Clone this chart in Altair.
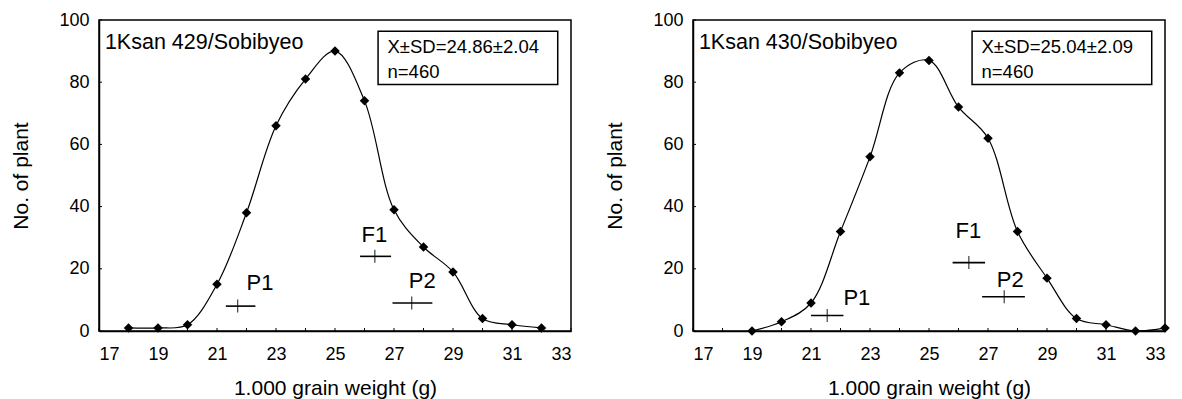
import altair as alt
import pandas as pd

# ---- data ----
weights_a = [18, 19, 20, 21, 22, 23, 24, 25, 26, 27, 28, 29, 30, 31, 32]
counts_a = [1, 1, 2, 15, 38, 66, 81, 90, 74, 39, 27, 19, 4, 2, 1]
weights_b = [19, 20, 21, 22, 23, 24, 25, 26, 27, 28, 29, 30, 31, 32, 33]
counts_b = [0, 3, 9, 32, 56, 83, 87, 72, 62, 32, 17, 4, 2, 0, 1]

cross_labels = ["P1", "F1", "P2"]
mean_a = [21.7, 26.35, 27.6]
low_a = [21.3, 25.85, 26.95]
high_a = [22.3, 26.9, 28.3]
level_a = [8, 24, 9]
mean_b = [21.55, 26.35, 27.55]
low_b = [21.0, 25.8, 26.8]
high_b = [22.1, 26.9, 28.25]
level_b = [5, 22, 11]

title_a = "1Ksan 429/Sobibyeo"
title_b = "1Ksan 430/Sobibyeo"
stats_a = ["X\u00b1SD=24.86\u00b12.04", "n=460"]
stats_b = ["X\u00b1SD=25.04\u00b12.09", "n=460"]

x_ticks = [17, 19, 21, 23, 25, 27, 29, 31, 33]
minor_x = list(range(17, 34))
y_ticks = [0, 20, 40, 60, 80, 100]

# ---- annotation placement (data coordinates) ----
lab_x_a = [22.0, 25.9, 27.5]
lab_y_a = [15.5, 31, 16]
lab_x_b = [22.1, 25.9, 27.3]
lab_y_b = [10.5, 32, 16.5]

FONT = "Liberation Sans"
W, H = 472, 311

xs = alt.Scale(domain=[17, 33], nice=False, zero=False)
ys = alt.Scale(domain=[0, 100], nice=False)


def panel(weights, counts, mean, low, high, level, lab_x, lab_y, title, stats):
    df = pd.DataFrame({"w": weights, "n": counts})
    cross = pd.DataFrame({"lab": cross_labels, "m": mean, "lo": low, "hi": high,
                          "lv": level, "lx": lab_x, "ly": lab_y})
    xax = alt.Axis(values=x_ticks, title="1.000 grain weight (g)", grid=False,
                   ticks=False, labelPadding=14, titlePadding=14,
                   labelFontSize=18, titleFontSize=21, titleFontWeight="normal",
                   labelFont=FONT, titleFont=FONT, domainColor="black",
                   domainWidth=1.5, labelColor="black", titleColor="black")
    yax = alt.Axis(values=y_ticks, title="No. of plant", grid=False,
                   ticks=False, labelPadding=10, titlePadding=27,
                   labelFontSize=18, titleFontSize=21, titleFontWeight="normal",
                   labelFont=FONT, titleFont=FONT, domainColor="black",
                   domainWidth=1.5, labelColor="black", titleColor="black")

    base = alt.Chart(df)
    line = base.mark_line(color="black", strokeWidth=1.2,
                          interpolate="catmull-rom").encode(
        x=alt.X("w:Q", scale=xs, axis=xax),
        y=alt.Y("n:Q", scale=ys, axis=yax),
    )
    pts = base.mark_point(shape="diamond", filled=True, color="black",
                          size=90, opacity=1).encode(x="w:Q", y="n:Q")

    cb = alt.Chart(cross)
    hbar = cb.mark_rule(color="black", strokeWidth=1.6).encode(
        x="lo:Q", x2="hi:Q", y="lv:Q")
    vbar = cb.mark_tick(color="black", orient="vertical", size=13,
                        thickness=1.3).encode(x="m:Q", y="lv:Q")
    labs = cb.mark_text(align="left", baseline="middle", font=FONT,
                        fontSize=22, color="black").encode(
        x="lx:Q", y="ly:Q", text="lab:N")

    tx = pd.DataFrame({"t": minor_x})
    ticks_x = alt.Chart(tx).mark_rule(color="black", strokeWidth=1).encode(
        x="t:Q", y=alt.value(H), y2=alt.value(H - 3))
    ty = pd.DataFrame({"t": y_ticks})
    ticks_y = alt.Chart(ty).mark_rule(color="black", strokeWidth=1).encode(
        y="t:Q", x=alt.value(0), x2=alt.value(3))

    ttl = alt.Chart(pd.DataFrame({"s": [title]})).mark_text(
        align="left", baseline="middle", font=FONT, fontSize=21.5,
        color="black").encode(x=alt.datum(17.2), y=alt.datum(92.5), text="s:N")

    box = alt.Chart(pd.DataFrame({"k": [0]})).mark_rect(
        fill="white", stroke="black", strokeWidth=1.5).encode(
        x=alt.datum(26.46), x2=alt.datum(32.55),
        y=alt.datum(79.3), y2=alt.datum(96.4))
    st = alt.Chart(pd.DataFrame({"s": stats, "yy": [91.3, 83.3]})).mark_text(
        align="left", baseline="middle", font=FONT, fontSize=18.5,
        color="black").encode(x=alt.datum(26.78), y="yy:Q", text="s:N")

    return alt.layer(ticks_x, ticks_y, line, pts, hbar, vbar, labs, ttl, box,
                     st).properties(width=W, height=H)


left = panel(weights_a, counts_a, mean_a, low_a, high_a, level_a, lab_x_a,
             lab_y_a, title_a, stats_a)
right = panel(weights_b, counts_b, mean_b, low_b, high_b, level_b, lab_x_b,
              lab_y_b, title_b, stats_b)

chart = alt.hconcat(left, right, spacing=31).properties(
    padding={"left": 2, "top": 2, "right": 2, "bottom": 2},
    background="white",
).configure_view(stroke="black", strokeWidth=1.5)

chart.save("out.html", embed_options={"renderer": "svg", "actions": False})
